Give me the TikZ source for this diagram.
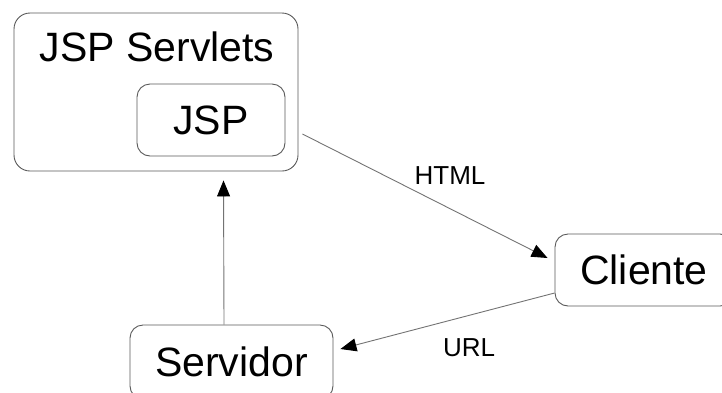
\documentclass[tikz,border=0pt]{standalone}
\usepackage{fontspec}
\setmainfont{Liberation Sans}
\usetikzlibrary{arrows.meta, positioning, calc}

\tikzset{
  box/.style={draw=black!65, line width=0.9pt, rounded corners=13pt, inner sep=0pt},
  big/.style={font=\fontsize{41}{45}\selectfont},
  small/.style={font=\fontsize{26}{30}\selectfont},
  flow/.style={draw=black!55, line width=0.9pt, -{Triangle[length=16pt,width=13pt,color=black]}}
}

\begin{document}
\begin{tikzpicture}[x=1pt,y=-1pt]
\useasboundingbox (0,0) rectangle (722,392);

\node[box, minimum width=284, minimum height=158, rounded corners=16pt] (servlets) at (156,92) {};
\node[big] (servletstitle) at (157,47) {JSP Servlets};
\node[box, minimum width=148, minimum height=72, big] (jsp) at (211,120) {JSP};
\node[box, minimum width=178, minimum height=72, big] (cliente) at (644,270) {Cliente};
\node[box, minimum width=203, minimum height=74, big] (servidor) at (231.5,362) {Servidor};

\node[small] (html) at (450,176) {HTML};
\node[small] (url) at (469,348) {URL};

\draw[flow] ([xshift=4, yshift=-42]servlets.east) -- ([xshift=-7, yshift=12]cliente.west);
\draw[flow] ([yshift=-23]cliente.west) -- ([xshift=7, yshift=13]servidor.east);
\draw[flow] ([xshift=-7.5]servidor.north) -- ([xshift=67.5, yshift=-9]servlets.south);
\end{tikzpicture}
\end{document}
